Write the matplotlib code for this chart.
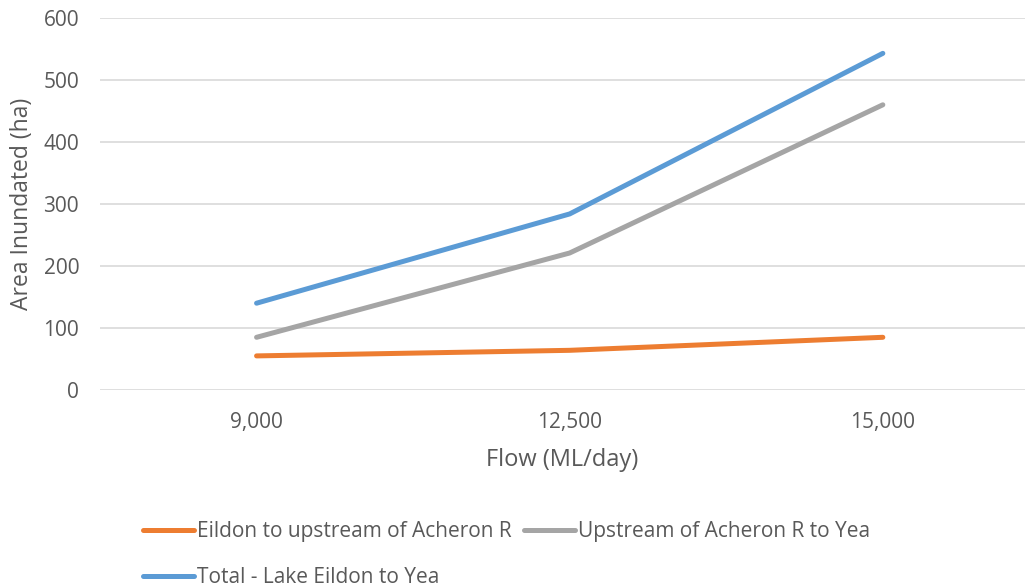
"""
Area inundated by flow, Lake Eildon to Yea reaches.
"""

import matplotlib
matplotlib.use("Agg")
import matplotlib.pyplot as plt

# -------------------------------------------------------------------
# Data
# -------------------------------------------------------------------

FLOW_LABELS = ["9,000", "12,500", "15,000"]

EILDON_TO_ACHERON = [55, 64, 85]
ACHERON_TO_YEA = [85, 221, 460]
TOTAL_EILDON_TO_YEA = [140, 284, 543]

SERIES_NAMES = [
    "Eildon to upstream of Acheron R",
    "Upstream of Acheron R to Yea",
    "Total - Lake Eildon to Yea",
]

Y_TICKS = [0, 100, 200, 300, 400, 500, 600]

# -------------------------------------------------------------------
# Style
# -------------------------------------------------------------------

TEXT_COLOR = "#595959"
GRID_COLOR = "#D9D9D9"
COLORS = ["#ED7D31", "#A5A5A5", "#5B9BD5"]

plt.rcParams["font.family"] = ["Open Sans", "DejaVu Sans"]


def main():
    fig = plt.figure(figsize=(10.25, 5.88), dpi=100)
    ax = fig.add_axes([100 / 1025, 1 - 390 / 588, 1 - 100 / 1025, 372 / 588])

    x = range(len(FLOW_LABELS))
    handles = []
    for values, name, color in zip(
        [EILDON_TO_ACHERON, ACHERON_TO_YEA, TOTAL_EILDON_TO_YEA], SERIES_NAMES, COLORS
    ):
        (line,) = ax.plot(
            x, values, color=color, linewidth=3.6, solid_capstyle="round",
            solid_joinstyle="round", label=name, zorder=3,
        )
        handles.append(line)

    ax.set_xlim(-0.5, 2.454)
    ax.set_ylim(0, 600)
    ax.set_yticks(Y_TICKS)
    ax.set_xticks(list(x))
    ax.set_xticklabels(FLOW_LABELS)

    ax.grid(axis="y", color=GRID_COLOR, linewidth=1.2)
    ax.set_axisbelow(True)
    for spine in ax.spines.values():
        spine.set_visible(False)
    ax.tick_params(axis="both", length=0, labelsize=15, labelcolor=TEXT_COLOR)
    ax.tick_params(axis="y", pad=15)
    ax.tick_params(axis="x", pad=16)

    ax.set_xlabel("Flow (ML/day)", fontsize=17, color=TEXT_COLOR, labelpad=11)
    ax.set_ylabel("Area Inundated (ha)", fontsize=16.5, color=TEXT_COLOR, labelpad=7)

    # Legend: two items on the first row, the total on the second
    order = [handles[0], handles[2], handles[1]]
    fig.legend(
        order, [h.get_label() for h in order],
        loc="upper left", bbox_to_anchor=(143 / 1025, 1 - 521 / 588),
        ncol=2, frameon=False, fontsize=15, labelcolor=TEXT_COLOR,
        handlelength=2.45, handletextpad=0.15, columnspacing=0.6,
        labelspacing=1.2, borderaxespad=0, borderpad=0,
    )

    fig.savefig("out.png", dpi=100)
    plt.close(fig)


if __name__ == "__main__":
    main()
